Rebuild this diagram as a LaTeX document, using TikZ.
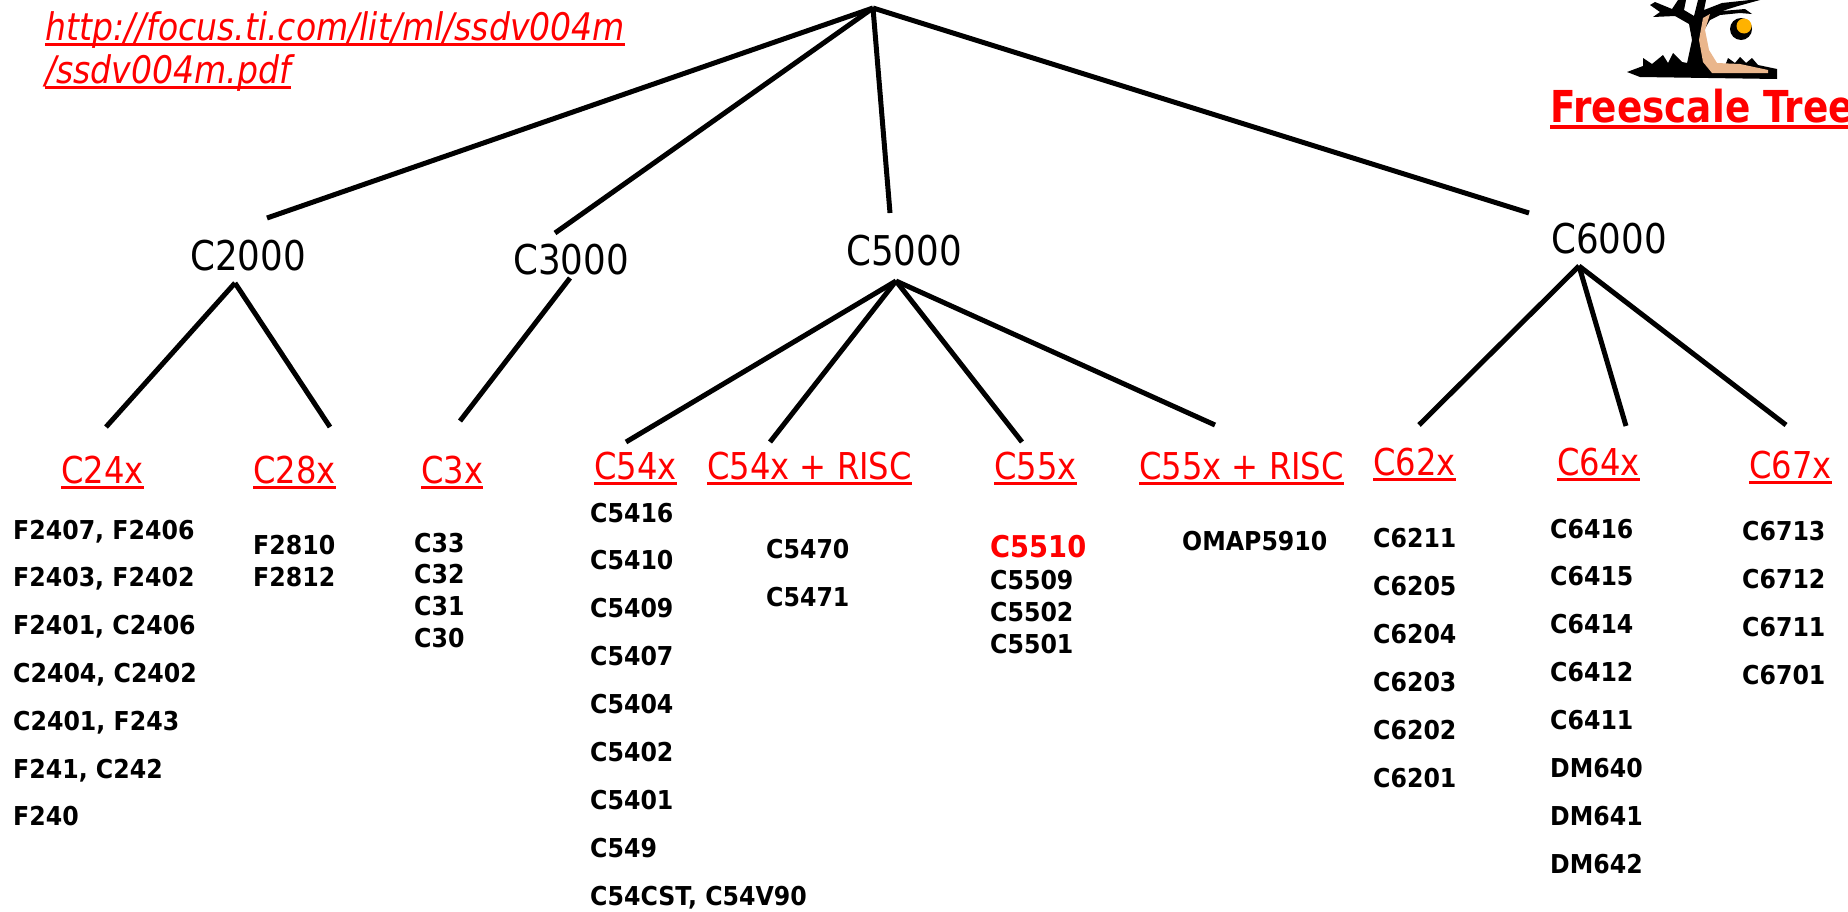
\documentclass[tikz,border=0pt]{standalone}
\usepackage{fontspec}
\usepackage{tikz}

\newfontfamily\tah[FakeStretch=0.87]{DejaVu Sans}
\newfontfamily\tahb[FakeStretch=0.91]{DejaVu Sans}
\newfontfamily\tahn[FakeStretch=0.85]{DejaVu Sans}
\definecolor{bark}{RGB}{234,182,140}
\definecolor{fruit}{RGB}{255,178,0}

\tikzset{
  branch/.style={line width=5pt},
  dsp/.style={anchor=base west, inner sep=0pt, font=\tah\fontsize{41}{41}\selectfont},
  fam/.style={anchor=base west, inner sep=0pt, text=red, font=\tah\fontsize{37}{37}\selectfont},
  chip/.style={anchor=base west, inner sep=0pt, font=\tahb\bfseries\fontsize{26}{26}\selectfont},
  link/.style={anchor=base west, inner sep=0pt, text=red, font=\tah\itshape\fontsize{38}{38}\selectfont},
  uline/.style={red, line width=3pt},
}

\begin{document}
\begin{tikzpicture}[x=1pt, y=-1pt]
            \useasboundingbox (0,0) rectangle (1848,911);

            % link to the datasheet
            \node[link] (url1) at (45,40) {http://focus.ti.com/lit/ml/ssdv004m};
            \node[link] (url2) at (45,83) {/ssdv004m.pdf};
            \node[anchor=base west, inner sep=0pt, text=red,
                  font=\tahn\bfseries\fontsize{44}{44}\selectfont] (fstree) at (1550,122) {Freescale Tree};

            % little tree
            \fill (1627,72) -- (1643,66) -- (1643,58) -- (1652,64) -- (1663,55) -- (1668,63)
                -- (1673,53) -- (1682,62) -- (1693,64) -- (1725,66) -- (1728,58) -- (1735,63)
                -- (1740,57) -- (1746,63) -- (1752,58) -- (1758,65) -- (1777,69) -- (1777,79)
                -- (1640,77) -- cycle;
            \fill (1686,68) -- (1692,40) -- (1689,24) -- (1675,16) -- (1653,17) -- (1660,12)
                -- (1650,5) -- (1655,2) -- (1672,9) -- (1678,0) -- (1686,0) -- (1684,10)
                -- (1694,16) -- (1698,0) -- (1706,0) -- (1704,10) -- (1722,3) -- (1750,0)
                -- (1760,0) -- (1738,6) -- (1722,11) -- (1745,9) -- (1752,14) -- (1740,13)
                -- (1720,15) -- (1710,20) -- (1703,32) -- (1707,50) -- (1714,64) -- cycle;
            \fill[bark] (1703,18) -- (1710,14) -- (1705,30) -- (1709,50) -- (1717,63)
                -- (1740,64) -- (1768,70) -- (1768,73) -- (1712,73) -- (1703,62)
                -- (1699,40) -- cycle;
            \fill (1741,29) circle (11);
            \fill[fruit] (1744,26) circle (7.5);

            % families
            \node[dsp] (c2000) at (190,270) {C2000};
            \node[dsp] (c3000) at (513,274) {C3000};
            \node[dsp] (c5000) at (846,265) {C5000};
            \node[dsp] (c6000) at (1551,253) {C6000};

            \node[fam] (c24x) at (61,483) {C24x};
            \node[fam] (c28x) at (253,483) {C28x};
            \node[fam] (c3x) at (421,483) {C3x};
            \node[fam] (c54x) at (594,479) {C54x};
            \node[fam] (c54r) at (707,479) {C54x + RISC};
            \node[fam] (c55x) at (994,479) {C55x};
            \node[fam] (c55r) at (1139,479) {C55x + RISC};
            \node[fam] (c62x) at (1373,475) {C62x};
            \node[fam] (c64x) at (1557,475) {C64x};
            \node[fam] (c67x) at (1749,478) {C67x};

            \foreach \n in {url1,url2,c24x,c28x,c3x,c54x,c54r,c55x,c55r,c62x,c64x,c67x}
            \draw[uline] ([yshift=-4.5pt]\n.base west) -- ([yshift=-4.5pt]\n.base east);
            \draw[red, line width=3.5pt] ([yshift=-5pt]fstree.base west) -- ([yshift=-5pt]fstree.base east);

            % line ends
            \coordinate (root) at (873,8);
            \coordinate (c2000-in) at (267,218);   \coordinate (c2000-out) at (235,283);
            \coordinate (c3000-in) at (555,233);   \coordinate (c3000-out) at (570,278);
            \coordinate (c5000-in) at (890,213);   \coordinate (c5000-out) at (896,281);
            \coordinate (c6000-in) at (1529,213);  \coordinate (c6000-out) at (1579,266);
            \coordinate (c24x-in) at (106,427);    \coordinate (c28x-in) at (330,427);
            \coordinate (c3x-in) at (460,421);
            \coordinate (c54x-in) at (626,442);    \coordinate (c54r-in) at (770,442);
            \coordinate (c55x-in) at (1022,442);   \coordinate (c55r-in) at (1215,425);
            \coordinate (c62x-in) at (1419,425);   \coordinate (c64x-in) at (1626,426);
            \coordinate (c67x-in) at (1786,425);

            \foreach \a/\b in {root/c2000-in, root/c3000-in, root/c5000-in, root/c6000-in,
                c2000-out/c24x-in, c2000-out/c28x-in, c3000-out/c3x-in,
                c5000-out/c54x-in, c5000-out/c54r-in, c5000-out/c55x-in, c5000-out/c55r-in,
                c6000-out/c62x-in, c6000-out/c64x-in, c6000-out/c67x-in}
            \draw[branch] (\a) -- (\b);

            % parts
            \foreach \t [count=\i from 0] in {{F2407, F2406},{F2403, F2402},{F2401, C2406},
                {C2404, C2402},{C2401, F243},{F241, C242},F240}
            \node[chip] (c24x-\i) at (13,{539+47.8*\i}) {\t};
            \foreach \t [count=\i from 0] in {F2810,F2812}
            \node[chip] (c28x-\i) at (253,{554+32*\i}) {\t};
            \foreach \t [count=\i from 0] in {C33,C32,C31,C30}
            \node[chip] (c3x-\i) at (414,{552+31.7*\i}) {\t};
            \foreach \t [count=\i from 0] in {C5416,C5410,C5409,C5407,C5404,C5402,C5401,C549,
                {C54CST, C54V90}}
            \node[chip] (c54x-\i) at (590,{522+47.9*\i}) {\t};
            \foreach \t [count=\i from 0] in {C5470,C5471}
            \node[chip] (c54r-\i) at (766,{558+48*\i}) {\t};
            \node[chip, text=red, font=\tahb\bfseries\fontsize{30}{30}\selectfont] (c55x-0) at (990,557) {C5510};
            \foreach \t [count=\i from 1] in {C5509,C5502,C5501}
            \node[chip] (c55x-\i) at (990,{558+31.7*\i}) {\t};
            \node[chip] (c55r-0) at (1182,550) {OMAP5910};
            \foreach \t [count=\i from 0] in {C6211,C6205,C6204,C6203,C6202,C6201}
            \node[chip] (c62x-\i) at (1373,{547+48*\i}) {\t};
            \foreach \t [count=\i from 0] in {C6416,C6415,C6414,C6412,C6411,DM640,DM641,DM642}
            \node[chip] (c64x-\i) at (1550,{538+47.9*\i}) {\t};
            \foreach \t [count=\i from 0] in {C6713,C6712,C6711,C6701}
            \node[chip] (c67x-\i) at (1742,{540+48*\i}) {\t};
        \end{tikzpicture}
\end{document}
